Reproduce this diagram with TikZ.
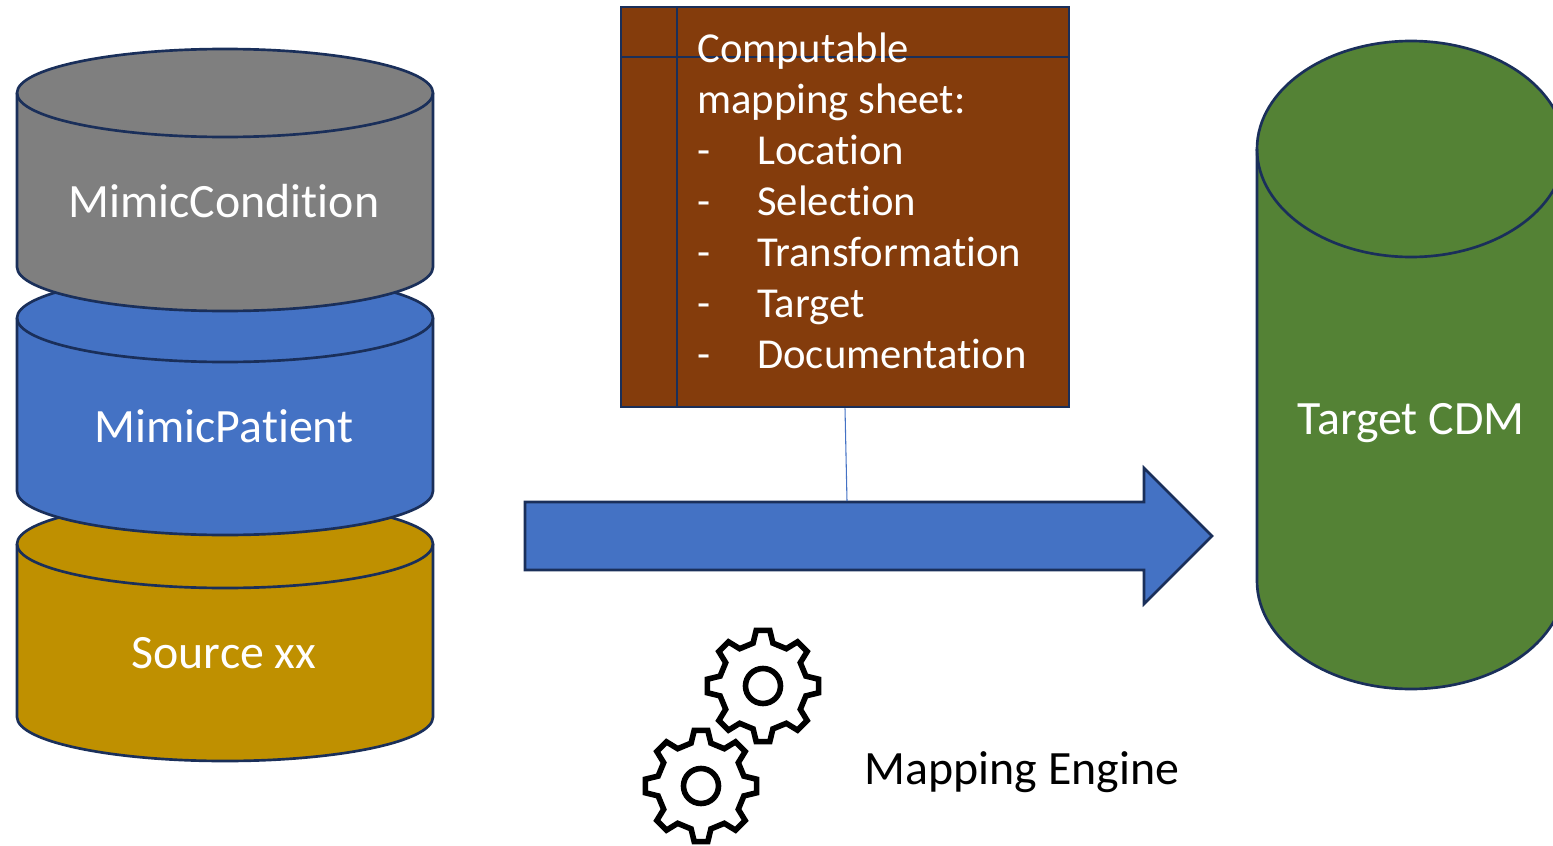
\documentclass[tikz,border=0pt]{standalone}
\usepackage{fontspec}
\setmainfont[Ligatures=NoCommon,Contextuals=NoAlternate]{Carlito}
\definecolor{edgeblue}{HTML}{1A2F5A}
\definecolor{fillblue}{HTML}{4472C4}
\definecolor{fillgray}{HTML}{7F7F7F}
\definecolor{fillgold}{HTML}{BF9000}
\definecolor{fillgreen}{HTML}{548235}
\definecolor{fillbrown}{HTML}{843C0C}
\newcommand{\cylshape}[6]{% cx, topcentre y, bottomcentre y, rx, ry, fill
  \path[shapeline,fill=#6] (#1-#4,#2) -- (#1-#4,#3) arc[start angle=180,end angle=360,x radius=#4,y radius=-#5] -- (#1+#4,#2) arc[start angle=0,end angle=180,x radius=#4,y radius=-#5] -- cycle;
  \path[shapeline] (#1-#4,#2) arc[start angle=180,end angle=360,x radius=#4,y radius=-#5];
}
\tikzset{
  x=0.75pt,y=-0.75pt,
  shapeline/.style={draw=edgeblue,line width=2pt,line join=miter},
  biglabel/.style={text=white,font=\fontsize{35.9pt}{42pt}\selectfont,inner sep=0pt,anchor=base},
  sheetbox/.style={shapeline,fill=fillbrown,rectangle,inner sep=0pt,minimum width=336pt,minimum height=300pt},
  sheettext/.style={text=white,font=\fontsize{32pt}{38.25pt}\selectfont,inner sep=0pt,align=left,anchor=base west},
  gearline/.style={draw=black,line width=4.2pt,line join=miter,fill=white},
  pics/gearicon/.style={code={
    \path[gearline] (-7:56) \foreach \a in {0,45,...,315} {
      -- ({\a-7}:56) -- ({\a+7}:56) -- ({\a+13}:44) -- ({\a+32}:44)
    } -- cycle;
    \path[gearline] (0,0) circle[radius=17.5];
  }}
}
\newcommand{\dashitem}[1]{\makebox[45pt][l]{-}#1}
\begin{document}
\begin{tikzpicture}
\useasboundingbox (0,0) rectangle (1553,846);
\clip (0,0) rectangle (1553,846);
% cylinders, bottom one first
\cylshape{225}{544}{717}{208}{44}{fillgold}
\cylshape{225}{318}{491}{208}{44}{fillblue}
\cylshape{225}{93}{267}{208}{44}{fillgray}
\cylshape{1411}{149}{581}{154}{108}{fillgreen}
\node[biglabel] (cond) at (224,217) {MimicCondition};
\node[biglabel] (patient) at (224,442) {MimicPatient};
\node[biglabel] (source) at (224,668) {Source xx};
\node[biglabel] (target) at (1411,434) {Target CDM};
% mapping sheet
\node[sheetbox] (sheet) at (845,207) {};
\draw[shapeline] (677,7) -- (677,407);
\draw[shapeline] (621,57) -- (1069,57);
\node[sheettext] (sheetlabel) at (697,368) {Computable\\mapping sheet:\\\dashitem{Location}\\\dashitem{Selection}\\\dashitem{Transformation}\\\dashitem{Target}\\\dashitem{Documentation}};
% arrow
\path[shapeline,fill=fillblue] (525,502) -- (1144,502) -- (1144,468) -- (1212,536) -- (1144,604) -- (1144,570) -- (525,570) -- cycle;
\coordinate (arrowtop) at (847,501);
\draw[fillblue,line width=0.8pt] (sheet.south) -- (arrowtop);
% gears
\pic at (763,686) {gearicon};
\pic at (701,786) {gearicon};
\node[inner sep=0pt,text=black,font=\fontsize{35.9pt}{42pt}\selectfont,anchor=base] (engine) at (1022,784) {Mapping Engine};
\end{tikzpicture}
\end{document}
